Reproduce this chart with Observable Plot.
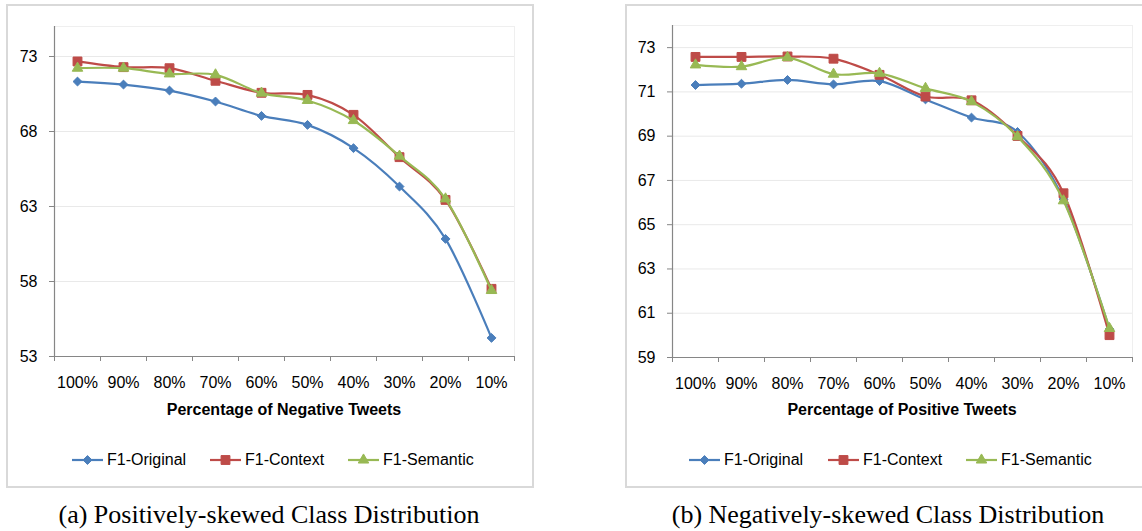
<!DOCTYPE html>
<html><head><meta charset="utf-8">
<script src="https://cdn.jsdelivr.net/npm/d3@7"></script>
<script src="https://cdn.jsdelivr.net/npm/@observablehq/plot@0.6"></script>
<style>
body{margin:0;background:#fff;}
#page{position:relative;width:1142px;height:531px;overflow:hidden;background:#fff;font-family:"Liberation Sans",Arial,sans-serif;color:#000;}
.box{position:absolute;border:2px solid #d9d9d9;box-sizing:border-box;}
.chart{position:absolute;top:0;}
.title{position:absolute;font-weight:bold;font-size:16px;transform:translate(-50%,-50%);white-space:nowrap;}
.leg{position:absolute;display:flex;align-items:center;font-size:16px;transform:translateY(-50%);white-space:nowrap;}
.leg svg{display:block;margin-right:4px;}
.caption{position:absolute;font-family:"Liberation Serif","Times New Roman",serif;font-size:26px;transform:translate(-50%,-50%);white-space:nowrap;}
</style></head>
<body><div id="page"></div>
<script>
// ---- data ----
const categoriesNeg = ["100%","90%","80%","70%","60%","50%","40%","30%","20%","10%"];
const categoriesPos = ["100%","90%","80%","70%","60%","50%","40%","30%","20%","10%"];
const seriesNames = ["F1-Original","F1-Context","F1-Semantic"];
const seriesColors = ["#4A7EBB","#BE4B48","#98B954"];
const seriesSymbols = ["diamond2","square","triangle"];
const negOriginal = [71.33,71.13,70.73,70.00,69.04,68.44,66.89,64.33,60.84,54.24];
const negContext  = [72.67,72.29,72.22,71.38,70.58,70.44,69.11,66.29,63.44,57.51];
const negSemantic = [72.22,72.22,71.84,71.78,70.56,70.07,68.73,66.36,63.51,57.40];
const posOriginal = [71.31,71.37,71.54,71.34,71.49,70.66,69.84,69.19,66.15,60.28];
const posContext  = [72.58,72.58,72.60,72.50,71.77,70.79,70.62,69.01,66.42,60.01];
const posSemantic = [72.22,72.14,72.55,71.80,71.84,71.16,70.56,68.98,66.08,60.31];
const negYTicks = [53,58,63,68,73];
const posYTicks = [59,61,63,65,67,69,71,73];
const negYDomain = [53,75];
const posYDomain = [59,74];
const xTitleNeg = "Percentage of Negative Tweets";
const xTitlePos = "Percentage of Positive Tweets";
const captionA = "(a) Positively-skewed Class Distribution";
const captionB = "(b) Negatively-skewed Class Distribution";

const page = document.getElementById("page");
const rSym = {diamond2:4, square:5, triangle:3.9};

function chart(cats, valuesList, yDomain, yTicks, width, height, ml, mr, mt, mb) {
  const n = cats.length;
  const boundaries = d3.range(n + 1).map(i => i - 0.5);
  const marks = [
    Plot.gridY(yTicks.slice(1), {stroke:"#e9e9e9", strokeOpacity:1}),
    Plot.ruleY([yDomain[1]], {stroke:"#efefef"}),
    Plot.ruleX([n - 0.5], {stroke:"#efefef"}),
    Plot.ruleX([-0.5], {stroke:"#868686", strokeWidth:1.2}),
    Plot.ruleY([yDomain[0]], {stroke:"#868686", strokeWidth:1.2}),
    Plot.axisY({ticks: yTicks, tickSize:5, tickPadding:12, stroke:"#868686", fill:"#000", fontSize:16, label:null}),
    Plot.axisX({ticks: boundaries, tickSize:5, tickFormat:() => "", stroke:"#868686", label:null}),
    Plot.axisX({ticks: d3.range(n), tickSize:0, tickPadding:20, tickFormat: i => cats[i], fill:"#000", fontSize:16, label:null})
  ];
  valuesList.forEach((vals, k) => {
    marks.push(Plot.line(vals, {x:(d,i) => i, y:d => d, stroke:seriesColors[k], strokeWidth:2.2, curve:"cardinal"}));
    marks.push(Plot.dot(vals, {x:(d,i) => i, y:d => d, symbol:seriesSymbols[k], r:rSym[seriesSymbols[k]], fill:seriesColors[k], stroke:seriesColors[k], strokeWidth:1}));
  });
  return Plot.plot({
    width, height, marginLeft:ml, marginRight:mr, marginTop:mt, marginBottom:mb,
    style:{background:"transparent", fontFamily:'"Liberation Sans",Arial,sans-serif', fontSize:"16px", color:"#000"},
    x:{type:"linear", domain:[-0.5, n - 0.5]},
    y:{domain:yDomain},
    marks
  });
}

function add(html, cls, style) {
  const d = document.createElement("div");
  d.className = cls; Object.assign(d.style, style); d.innerHTML = html; page.appendChild(d); return d;
}

function symbolSvg(k) {
  const c = seriesColors[k];
  const s = seriesSymbols[k];
  const path = d3.symbol(s === "diamond2" ? d3.symbolDiamond2 : s === "square" ? d3.symbolSquare : d3.symbolTriangle, Math.PI * rSym[s] * rSym[s])();
  return `<svg width="31" height="14"><line x1="0" x2="31" y1="7" y2="7" stroke="${c}" stroke-width="2.2"/><path d="${path}" transform="translate(15.5,7)" fill="${c}" stroke="${c}"/></svg>`;
}

function legend(xs, y) {
  seriesNames.forEach((name, k) => {
    add(symbolSvg(k) + `<span>${name}</span>`, "leg", {left: xs[k] + "px", top: y + "px"});
  });
}

// boxes
add("", "box", {left:"6px", top:"4px", width:"528px", height:"484px"});
add("", "box", {left:"625px", top:"4px", width:"530px", height:"484px"});

// charts
const c1 = add("", "chart", {left:"0px"});
c1.appendChild(chart(categoriesNeg, [negOriginal, negContext, negSemantic], negYDomain, negYTicks, 540, 400, 54, 26, 26, 44));
const c2 = add("", "chart", {left:"620px"});
c2.appendChild(chart(categoriesPos, [posOriginal, posContext, posSemantic], posYDomain, posYTicks, 522, 400, 52, 10, 25, 43));

// titles
add(xTitleNeg, "title", {left:"284px", top:"410px"});
add(xTitlePos, "title", {left:"902px", top:"410px"});

// legends
legend([72, 210, 348], 460);
legend([689, 828, 966], 460);

// captions
add(captionA, "caption", {left:"269px", top:"515px"});
add(captionB, "caption", {left:"888px", top:"515px"});
</script>
</body></html>
